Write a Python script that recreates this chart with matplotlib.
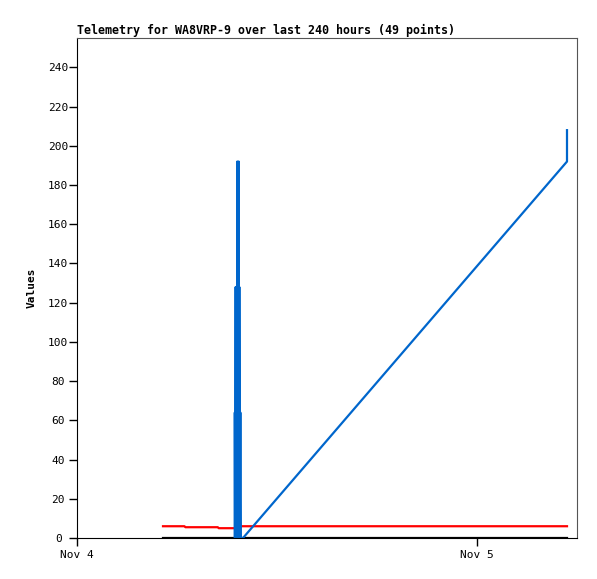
import datetime as dt
import matplotlib
matplotlib.use('Agg')
import matplotlib.pyplot as plt
import matplotlib.dates as mdates

day0 = dt.datetime(2023, 11, 4)

def hrs(h):
    return day0 + dt.timedelta(hours=h)

# black series
black_t = [5.16, 29.4]
black_v = [0, 0]

# red series
red_t = [5.16, 6.45, 6.5, 8.45, 8.5, 9.5, 9.55, 29.4]
red_v = [6.0, 6.0, 5.5, 5.5, 5.0, 5.0, 6.0, 6.0]

# blue series
blue_t = [9.46, 9.47, 9.49, 9.52, 9.54, 9.56, 9.60, 9.62, 9.66, 9.70,
          9.72, 9.74, 9.78, 9.80, 9.82, 9.96, 29.4, 29.4]
blue_v = [0, 64, 0, 128, 0, 128, 0, 192, 0, 192, 0, 128, 0, 64, 0, 0,
          192, 208]

title = 'Telemetry for WA8VRP-9 over last 240 hours (49 points)'
yticks = list(range(0, 241, 20))
font = 'DejaVu Sans Mono'

fig = plt.figure(figsize=(5.97, 5.79), dpi=100)
ax = fig.add_axes([77 / 597, 41 / 579, 500 / 597, 500 / 579])

ax.plot([hrs(h) for h in black_t], black_v, color='black', lw=1.6)
ax.plot([hrs(h) for h in red_t], red_v, color='#ff0000', lw=1.6)
ax.plot([hrs(h) for h in blue_t], blue_v, color='#0066cc', lw=1.6)

ax.set_xlim(hrs(0), hrs(30))
ax.set_ylim(0, 255)
ax.set_yticks(yticks)
ax.set_yticklabels([str(v) for v in yticks], fontfamily=font, fontsize=8,
                   ha='center')
ax.xaxis.set_major_locator(mdates.DayLocator())
ax.xaxis.set_major_formatter(mdates.DateFormatter('%b %-d'))
for lab in ax.get_xticklabels():
    lab.set_fontfamily(font)
    lab.set_fontsize(8)
ax.tick_params(direction='out', length=5.5, width=1)
ax.tick_params(axis='y', pad=8)
ax.tick_params(axis='x', pad=3)

for s in ['top', 'right']:
    ax.spines[s].set_color('#555555')
for s in ['left', 'bottom']:
    ax.spines[s].set_color('black')

ax.set_ylabel('Values', fontfamily=font, fontsize=8, fontweight='bold')
ax.yaxis.set_label_coords(-0.08, 0.5)
ax.set_title(title, loc='left', fontfamily=font, fontsize=8.4,
             fontweight='bold', pad=3)

fig.savefig('out.png', dpi=100)
